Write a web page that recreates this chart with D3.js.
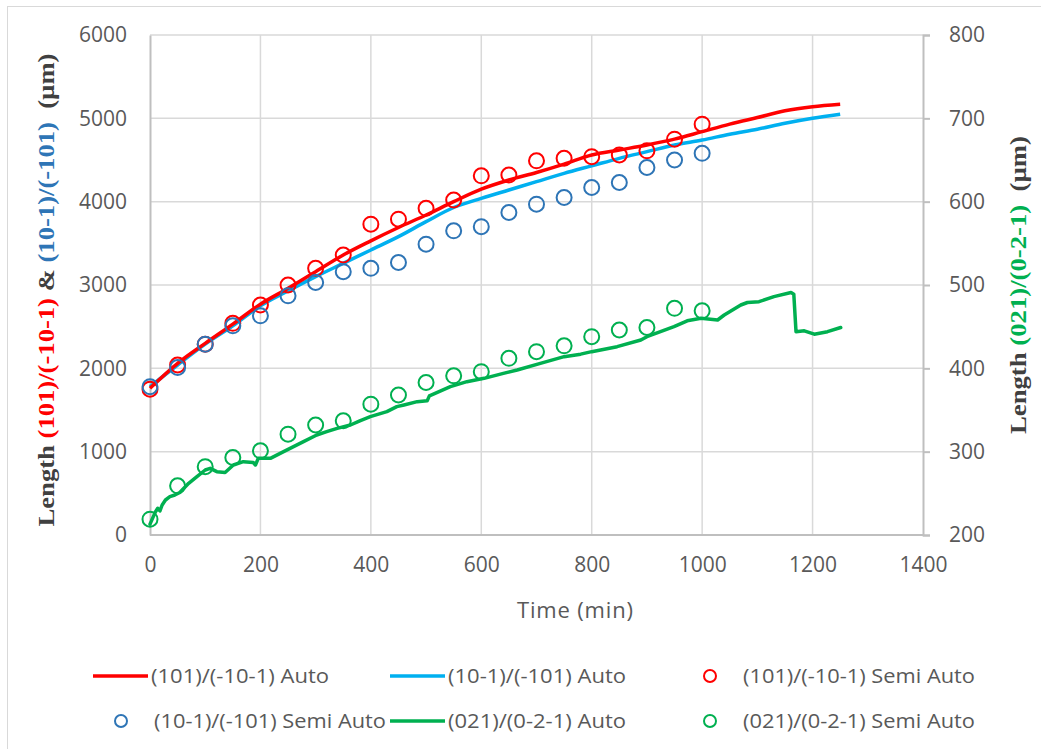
<!DOCTYPE html>
<html>
  <head>
    <meta charset="utf-8" />
    <script src="https://d3js.org/d3.v7.min.js"></script>
    <style>
      body { margin: 0; background: #fff; }
      text { font-family: "Open Sans", "Noto Sans", sans-serif; fill: #595959; }
    </style>
  </head>
  <body>
    <svg id="chart" width="1041" height="749"></svg>

    <script>
      // Datos
      const timeAuto = [0, 50, 100, 150, 200, 250, 300, 350, 400, 450, 500, 550, 600,
        650, 700, 750, 800, 850, 900, 950, 1000, 1050, 1100, 1150, 1200, 1250];
      const redAuto = [1760, 2060, 2300, 2530, 2770, 2960, 3160, 3360, 3530, 3690, 3840, 4000, 4150,
        4260, 4350, 4450, 4560, 4620, 4680, 4750, 4840, 4930, 5010, 5090, 5140, 5170];
      const blueAuto = [1780, 2040, 2290, 2510, 2750, 2930, 3100, 3260, 3420, 3580, 3760, 3930, 4040,
        4140, 4240, 4340, 4430, 4520, 4600, 4680, 4740, 4810, 4870, 4940, 5000, 5050];

      const timeSemi = [0, 50, 100, 150, 200, 250, 300, 350, 400, 450, 500,
        550, 600, 650, 700, 750, 800, 850, 900, 950, 1000];
      const redSemi = [1750, 2040, 2290, 2540, 2760, 3000, 3200, 3360, 3730, 3790, 3920,
        4020, 4310, 4320, 4490, 4520, 4540, 4560, 4610, 4750, 4930];
      const blueSemi = [1780, 2010, 2290, 2510, 2630, 2870, 3030, 3160, 3200, 3270, 3490,
        3650, 3700, 3870, 3970, 4050, 4170, 4230, 4410, 4500, 4580];
      const greenSemi = [219, 259, 282, 293, 301, 321, 332, 337, 357, 368, 383,
        391, 396, 412, 420, 427, 438, 446, 449, 472, 469];

      const timeGreen = [0, 6, 10, 14, 18, 22, 28, 36, 45, 54, 70, 85, 100, 109, 121, 136, 151,
        169, 187, 191, 196, 218, 242, 260, 278, 302, 320, 339, 363, 380, 399, 429, 447, 460,
        484, 502, 506, 544, 574, 605, 640, 665, 707, 750, 780, 800, 846, 889, 900, 949, 973,
        998, 1028, 1040, 1070, 1082, 1103, 1130, 1161, 1166, 1170, 1185, 1203, 1227, 1251];
      const greenAuto = [213, 222, 228, 232, 229, 236, 242, 246, 248, 251, 262, 270, 278, 280, 276, 275, 284,
        288, 287, 284, 292, 292, 300, 306, 312, 320, 324, 328, 332, 337, 342, 348, 354, 356,
        360, 361, 367, 378, 384, 388, 394, 398, 406, 414, 417, 420, 426, 434, 438, 450, 457,
        460, 458, 464, 476, 479, 480, 486, 491, 489, 444, 445, 441, 444, 449];

      const xTicks = [0, 200, 400, 600, 800, 1000, 1200, 1400];
      const yLeftTicks = [0, 1000, 2000, 3000, 4000, 5000, 6000];
      const yRightTicks = [200, 300, 400, 500, 600, 700, 800];

      const colRed = "#ff0000";
      const colCyan = "#00b0f0";
      const colBlue = "#2e75b6";
      const colGreen = "#00b050";

      const svg = d3.select("#chart");
      const plotLeft = 150, plotRight = 923, plotTop = 35, plotBottom = 535;

      // Escalas
      const x = d3.scaleLinear().domain([0, 1400]).range([plotLeft, plotRight]);
      const yL = d3.scaleLinear().domain([0, 6000]).range([plotBottom, plotTop]);
      const yR = d3.scaleLinear().domain([200, 800]).range([plotBottom, plotTop]);

      // Marco del gráfico
      svg.append("rect")
        .attr("x", 7.5).attr("y", 6.5)
        .attr("width", 1060).attr("height", 760)
        .attr("fill", "none").attr("stroke", "#d9d9d9");

      // Cuadrícula
      svg.append("g").selectAll("line")
        .data(yLeftTicks.slice(1))
        .enter().append("line")
        .attr("x1", plotLeft).attr("x2", plotRight)
        .attr("y1", (d) => yL(d)).attr("y2", (d) => yL(d))
        .style("stroke", "#d9d9d9").style("stroke-width", "1.5px");
      svg.append("g").selectAll("line")
        .data(xTicks.slice(1, -1))
        .enter().append("line")
        .attr("x1", (d) => x(d)).attr("x2", (d) => x(d))
        .attr("y1", plotTop).attr("y2", plotBottom)
        .style("stroke", "#d9d9d9").style("stroke-width", "1.5px");

      // Ejes
      const fmt = d3.format("d");
      const axisLeft = svg.append("g")
        .attr("transform", `translate(${plotLeft},0)`)
        .call(d3.axisLeft(yL).tickValues(yLeftTicks).tickFormat(fmt).tickSize(0).tickPadding(23));
      const axisRight = svg.append("g")
        .attr("transform", `translate(${plotRight},0)`)
        .call(d3.axisRight(yR).tickValues(yRightTicks).tickFormat(fmt).tickSize(7).tickPadding(19));
      const axisBottom = svg.append("g")
        .attr("transform", `translate(0,${plotBottom})`)
        .call(d3.axisBottom(x).tickValues(xTicks).tickFormat(fmt).tickSize(0).tickPadding(22));
      [axisLeft, axisRight, axisBottom].forEach((g) => {
        g.select(".domain").style("stroke", "#bfbfbf").style("stroke-width", "2px");
        g.selectAll(".tick line").style("stroke", "#bfbfbf").style("stroke-width", "2px");
        g.selectAll("text")
          .style("font-family", '"Open Sans", sans-serif')
          .style("font-size", "21px")
          .style("fill", "#595959");
      });
      axisBottom.select(".domain").attr("d", `M${plotLeft},0H${plotRight}`);

      // Líneas
      const lineL = d3.line().x((d) => x(d[0])).y((d) => yL(d[1])).curve(d3.curveMonotoneX);
      const lineR = d3.line().x((d) => x(d[0])).y((d) => yR(d[1]));

      svg.append("path")
        .datum(d3.zip(timeAuto, blueAuto))
        .attr("fill", "none").attr("stroke", colCyan)
        .attr("stroke-width", 3.5).attr("stroke-linejoin", "round")
        .attr("d", lineL);
      svg.append("path")
        .datum(d3.zip(timeAuto, redAuto))
        .attr("fill", "none").attr("stroke", colRed)
        .attr("stroke-width", 3.5).attr("stroke-linejoin", "round")
        .attr("d", lineL);
      svg.append("path")
        .datum(d3.zip(timeGreen, greenAuto))
        .attr("fill", "none").attr("stroke", colGreen)
        .attr("stroke-width", 3.5).attr("stroke-linejoin", "round")
        .attr("stroke-linecap", "round")
        .attr("d", lineR);

      // Puntos semi auto
      function circles(data, yScale, color) {
        svg.append("g").selectAll("circle")
          .data(data)
          .enter().append("circle")
          .attr("cx", (d) => x(d[0]))
          .attr("cy", (d) => yScale(d[1]))
          .attr("r", 7.5)
          .attr("fill", "none")
          .attr("stroke", color)
          .attr("stroke-width", 2);
      }
      circles(d3.zip(timeSemi, redSemi), yL, colRed);
      circles(d3.zip(timeSemi, blueSemi), yL, colBlue);
      circles(d3.zip(timeSemi, greenSemi), yR, colGreen);

      // Títulos de ejes
      svg.append("text")
        .attr("x", 575).attr("y", 618)
        .attr("text-anchor", "middle")
        .style("font-size", "22px")
        .attr("textLength", 116)
        .text("Time (min)");

      const serif = '"Liberation Serif", "DejaVu Serif", serif';
      const titleL = svg.append("text")
        .attr("transform", `translate(54,${(plotTop + plotBottom) / 2 + 5}) rotate(-90)`)
        .attr("text-anchor", "middle")
        .attr("xml:space", "preserve")
        .attr("textLength", 473)
        .attr("lengthAdjust", "spacingAndGlyphs")
        .style("font-family", serif).style("font-weight", "bold").style("font-size", "23px");
      [["Length ", "#404040"], ["(101)/(-10-1)", colRed], [" & ", "#404040"],
       ["(10-1)/(-101)", colBlue], ["  (µm)", "#404040"]].forEach(([t, c]) => {
        titleL.append("tspan").style("fill", c).text(t);
      });

      const titleR = svg.append("text")
        .attr("transform", `translate(1026,${(plotTop + plotBottom) / 2}) rotate(-90)`)
        .attr("text-anchor", "middle")
        .attr("xml:space", "preserve")
        .attr("textLength", 298)
        .attr("lengthAdjust", "spacingAndGlyphs")
        .style("font-family", serif).style("font-weight", "bold").style("font-size", "23px");
      [["Length ", "#404040"], ["(021)/(0-2-1)", colGreen], ["  (µm)", "#404040"]].forEach(([t, c]) => {
        titleR.append("tspan").style("fill", c).text(t);
      });

      // Leyenda
      const legendItems = [
        { label: "(101)/(-10-1) Auto", color: colRed, type: "line", x: 93, y: 676, w: 178 },
        { label: "(10-1)/(-101) Auto", color: colCyan, type: "line", x: 390, y: 676, w: 178 },
        { label: "(101)/(-10-1) Semi Auto", color: colRed, type: "circle", x: 710, y: 676, w: 232 },
        { label: "(10-1)/(-101) Semi Auto", color: colBlue, type: "circle", x: 121, y: 721, w: 232 },
        { label: "(021)/(0-2-1) Auto", color: colGreen, type: "line", x: 390, y: 721, w: 178 },
        { label: "(021)/(0-2-1) Semi Auto", color: colGreen, type: "circle", x: 710, y: 721, w: 232 },
      ];
      const legend = svg.append("g").selectAll("g")
        .data(legendItems)
        .enter().append("g")
        .attr("transform", (d) => `translate(${d.x},${d.y})`);
      legend.filter((d) => d.type === "line").append("line")
        .attr("x1", 0).attr("x2", 55)
        .attr("stroke", (d) => d.color).attr("stroke-width", 3.5);
      legend.filter((d) => d.type === "circle").append("circle")
        .attr("r", 6).attr("fill", "none")
        .attr("stroke", (d) => d.color).attr("stroke-width", 2);
      legend.append("text")
        .attr("x", (d) => (d.type === "line" ? 58 : 33))
        .attr("dy", "0.35em")
        .attr("textLength", (d) => d.w)
        .attr("lengthAdjust", "spacingAndGlyphs")
        .style("font-size", "20px")
        .text((d) => d.label);
    </script>
  </body>
</html>
